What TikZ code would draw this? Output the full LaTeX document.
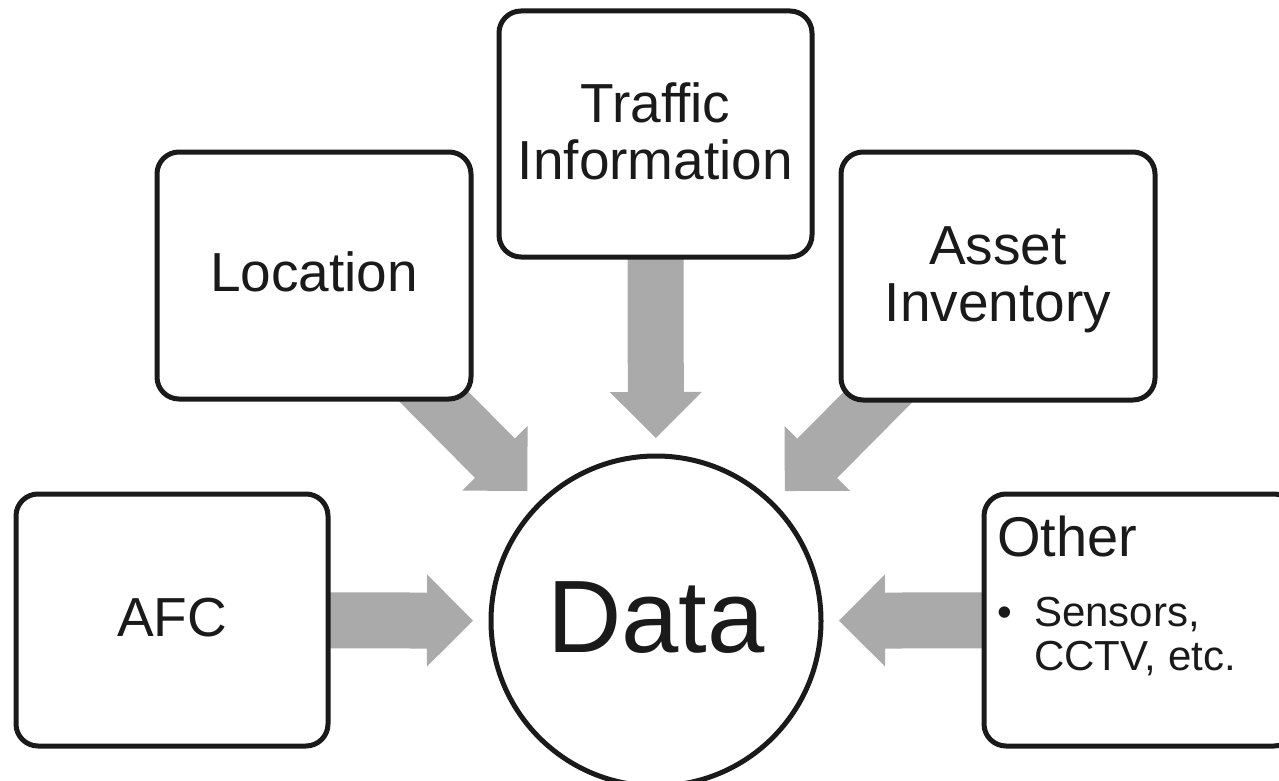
\documentclass[tikz,border=0pt]{standalone}
\usepackage{fontspec}
\setmainfont{Liberation Sans}
\usetikzlibrary{calc}

\definecolor{ink}{RGB}{26,26,26}
\definecolor{arrowfill}{RGB}{170,170,170}

% Broad block arrow from #1 (tail) to #2 (tip): shaft 56, head 92 wide, right-angled tip
\newcommand{\blockarrow}[2]{%
  \path ($(#2)!46pt!(#1)$) coordinate (#2-h);
  \fill[arrowfill]
    ($(#1)!28pt!90:(#2)$) --
    ($(#2-h)!28pt!90:(#2)$) --
    ($(#2-h)!46pt!90:(#2)$) --
    (#2) --
    ($(#2-h)!46pt!-90:(#2)$) --
    ($(#2-h)!28pt!-90:(#2)$) --
    ($(#1)!28pt!-90:(#2)$) -- cycle;
}

\tikzset{
  source/.style={draw=ink, fill=white, line width=5pt, rounded corners=22pt,
    inner sep=0pt, text=ink, font=\fontsize{55}{57}\selectfont, align=center},
  oneline/.style={text height=40pt, text depth=8pt},
  twoline/.style={text height=100pt, text depth=10pt},
  hub/.style={circle, draw=ink, fill=white, line width=5pt, minimum size=330pt,
    inner sep=0pt, text=ink, font=\fontsize{103}{103}\selectfont,
    text height=74pt, text depth=12pt},
  itemtext/.style={inner sep=0pt, anchor=base west, text=ink,
    font=\fontsize{42}{44}\selectfont},
}

\begin{document}
\begin{tikzpicture}[x=1pt, y=-1pt]
  \useasboundingbox (0,0) rectangle (1279,781);
  \fill[white] (0,0) rectangle (1279,781);
  \clip (0,0) rectangle (1279,781);

  % placement of the hub and sources (boxes drawn later, above the arrows)
  \path (656,621) coordinate (dc);
  \path (172,620) coordinate (afcC) (314,275.5) coordinate (locC)
        (655.5,134) coordinate (trafC) (998,276) coordinate (assetC)
        (1140,620) coordinate (otherC);

  % arrow ends: tips stand off the hub, tails hide under the boxes
  \foreach \s in {afcC,locC,trafC,assetC,otherC}{
    \path ($(dc)!183pt!(\s)$) coordinate (\s-tip)
          ($(dc)!400pt!(\s)$) coordinate (\s-tail);
  }
  \blockarrow{afcC-tail}{afcC-tip}
  \blockarrow{locC-tail}{locC-tip}
  \blockarrow{trafC-tail}{trafC-tip}
  \blockarrow{assetC-tail}{assetC-tip}
  \blockarrow{otherC-tail}{otherC-tip}

  % source boxes
  \node[source, oneline, minimum width=312pt, minimum height=252pt] (afc) at (afcC) {AFC};
  \node[source, oneline, minimum width=314pt, minimum height=247pt] (loc) at (locC) {Location};
  \node[source, twoline, minimum width=313pt, minimum height=246pt] (traf) at (trafC) {Traffic\\Information};
  \node[source, twoline, minimum width=314pt, minimum height=248pt] (asset) at (assetC) {Asset\\Inventory};
  \node[source, minimum width=312pt, minimum height=252pt] (other) at (otherC) {};

  % contents of the "Other" box
  \node[inner sep=0pt, anchor=base west, text=ink, font=\fontsize{56}{56}\selectfont]
    (otherTitle) at (997,556) {Other};
  \node[inner sep=0pt, anchor=base, text=ink, font=\fontsize{42}{44}\selectfont]
    (dot) at (1005,626) {•};
  \node[itemtext] (item1) at (1034,626) {Sensors,};
  \node[itemtext] (item2) at (1034,670) {CCTV, etc.};

  % hub
  \node[hub] (data) at (dc) {Data};
\end{tikzpicture}
\end{document}
